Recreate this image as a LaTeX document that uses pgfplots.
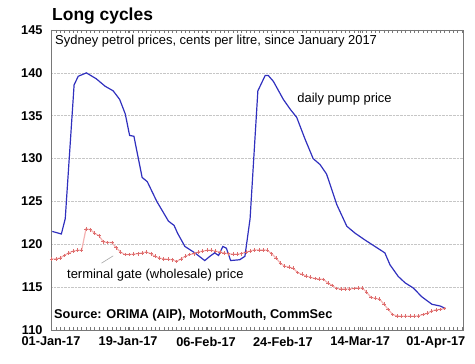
\documentclass[border=0pt]{standalone}
\usepackage{pgfplots}
\pgfplotsset{compat=1.18}
\usepackage{fontspec}
\setmainfont{Liberation Sans}
\definecolor{pumpblue}{RGB}{48,48,190}
\definecolor{gateline}{RGB}{244,178,178}
\definecolor{gatemark}{RGB}{222,110,110}
\definecolor{framegray}{RGB}{120,120,120}
\begin{document}
\begin{tikzpicture}
\begin{axis}[
  scale only axis,
  width=412bp, height=300bp,
  xmin=0.9, xmax=96.3,
  ymin=110, ymax=145,
  ytick={110,115,...,145},
  xtick={0.9,18.75,36.8,54.6,72.5,90},
  xticklabels={01-Jan-17,19-Jan-17,06-Feb-17,24-Feb-17,14-Mar-17,01-Apr-17},
  minor xtick={1,2,...,96},
  tick align=inside,
  major tick length=3bp, minor tick length=3bp,
  xtick style={framegray, line width=0.4pt},
  minor tick style={framegray, line width=0.4pt},
  ytick style={draw=none},
  ymajorgrids,
  major grid style={densely dotted, gray!45, line width=0.6pt},
  axis line style={framegray, line width=0.6pt},
  /pgf/number format/assume math mode=true,
  ticklabel style={font=\bfseries\fontsize{12.8}{14}\selectfont, text=black},
  yticklabel style={xshift=-5bp},
  xticklabel style={yshift=-3.5bp},
  clip=false,
]
% terminal gate (wholesale) price
\addplot[gateline, line width=1.2pt, mark=+, mark size=1.8pt,
  mark options={gatemark, line width=0.45pt}] coordinates {
(1,118.3)(2,118.3)(3,118.4)(4,118.7)(5,119.0)(6,119.2)(7,119.3)(8,119.3)
(9,121.8)(10,121.7)(11,121.3)(12,121.0)(13,120.3)(14,120.2)(15,120.2)(16,119.6)
(17,119.1)(18,118.8)(19,118.8)(20,118.85)(21,118.9)(22,119.0)(23,119.1)(24,118.9)
(25,118.6)(26,118.4)(27,118.3)(28,118.25)(29,118.2)(30,118.0)(31,118.3)(32,118.6)
(33,118.8)(34,118.9)(35,119.1)(36,119.2)(37,119.3)(38,119.3)(39,119.2)(40,119.1)
(41,119.0)(42,118.9)(43,118.85)(44,118.85)(45,118.9)(46,119.1)(47,119.2)(48,119.35)
(49,119.35)(50,119.35)(51,119.3)(52,118.9)(53,118.4)(54,117.8)(55,117.45)(56,117.35)
(57,117.2)(58,116.7)(59,116.5)(60,116.3)(61,116.15)(62,116.0)(63,115.95)(64,115.9)
(65,115.5)(66,115.2)(67,114.85)(68,114.8)(69,114.8)(70,114.8)(71,114.85)(72,114.9)
(73,114.9)(74,114.4)(75,113.8)(76,113.7)(77,113.6)(78,113.0)(79,112.4)(80,111.8)
(81,111.65)(82,111.6)(83,111.6)(84,111.6)(85,111.6)(86,111.65)(87,111.8)(88,111.95)
(89,112.2)(90,112.35)(91,112.4)(92,112.5)
};
% daily pump price
\addplot[pumpblue, line width=1.2pt, mark=none] coordinates {
(1.2,121.5)(3.3,121.2)(4.2,123.0)(6.25,138.6)(7.2,139.6)(9.1,140.0)(11.4,139.3)
(13.4,138.45)(15.3,137.9)(16.8,136.9)(18.1,135.2)(19.1,132.7)(20.1,132.6)(22,127.8)
(23.2,127.3)(25.4,125.0)(28.1,122.7)(29.4,122.2)(30.2,121.3)(31.9,119.75)(34.2,119.0)
(36.5,118.1)(37.7,118.6)(38.8,119.0)(39.7,118.7)(40.7,119.75)(41.5,119.55)(42.5,118.1)
(44.6,118.2)(45.8,118.6)(47,123.0)(48.8,137.9)(50.5,139.7)(51.2,139.7)(52.4,139.0)
(54.7,136.9)(56.3,135.75)(57.8,134.8)(59.7,132.3)(61.6,130.0)(63.2,129.3)(64.7,128.2)
(67.1,124.6)(69.4,122.1)(71.3,121.3)(73.6,120.5)(75.9,119.75)(78.2,119.0)(79.4,117.6)
(81.3,116.25)(82.9,115.5)(84.8,114.9)(86.7,113.9)(89.1,113.0)(91,112.8)(92.3,112.5)
};
% connector for wholesale label
\draw[gray!70, line width=0.6pt] (axis cs:12.6,117.8) -- (axis cs:15.3,118.65);
% annotations
\node[anchor=base west, inner sep=0pt, font=\fontsize{13}{15}\selectfont]
  at (axis cs:57.9,136.56) {daily pump price};
\node[anchor=base west, inner sep=0pt, font=\fontsize{13}{15}\selectfont]
  at (axis cs:4.6,116.0) {terminal gate (wholesale) price};
\node[anchor=base west, inner sep=0pt, font=\bfseries\fontsize{12.8}{15}\selectfont]
  at (axis cs:1.6,111.4) {Source: ORIMA (AIP), MotorMouth, CommSec};
\node[anchor=base west, inner sep=0pt, font=\fontsize{13}{15}\selectfont]
  at ([xshift=4bp,yshift=-15bp]rel axis cs:0,1) {Sydney petrol prices, cents per litre, since January 2017};
\node[anchor=base west, inner sep=0pt, font=\bfseries\fontsize{17.5}{20}\selectfont]
  at ([xshift=1bp,yshift=9bp]rel axis cs:0,1) {Long cycles};
\end{axis}
\pgfresetboundingbox
\path (current axis.south west) ++(-51bp,-34bp) rectangle ++(475bp,364bp);
\end{tikzpicture}
\end{document}
